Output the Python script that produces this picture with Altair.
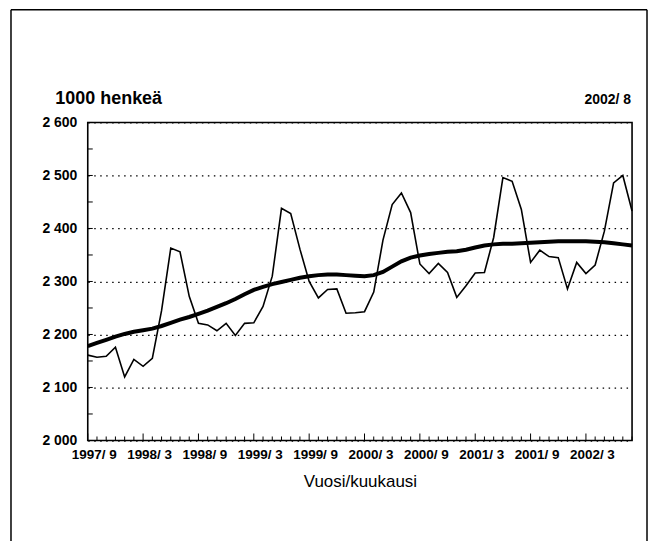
import altair as alt
import pandas as pd

# --- data ---------------------------------------------------------------
month_index = list(range(60))  # 1997/9 ... 2002/8
tick_labels = ["1997/ 9", "1998/ 3", "1998/ 9", "1999/ 3", "1999/ 9",
               "2000/ 3", "2000/ 9", "2001/ 3", "2001/ 9", "2002/ 3"]
tick_positions = [0, 6, 12, 18, 24, 30, 36, 42, 48, 54]

original = [2161, 2157, 2159, 2176, 2120, 2153, 2140, 2155, 2245, 2363,
            2356, 2272, 2221, 2218, 2207, 2221, 2198, 2221, 2222, 2253,
            2310, 2438, 2428, 2361, 2300, 2269, 2285, 2286, 2240, 2241,
            2243, 2280, 2378, 2445, 2467, 2430, 2333, 2315, 2334, 2317,
            2270, 2292, 2316, 2317, 2383, 2496, 2489, 2436, 2336, 2359,
            2347, 2345, 2286, 2336, 2315, 2331, 2395, 2486, 2500, 2433]

trend = [2178, 2184, 2190, 2196, 2201, 2205, 2208, 2211, 2216, 2222,
         2228, 2233, 2239, 2245, 2252, 2259, 2267, 2276, 2284, 2290,
         2295, 2299, 2303, 2307, 2310, 2312, 2313, 2313, 2312, 2311,
         2310, 2312, 2318, 2328, 2338, 2345, 2349, 2352, 2354, 2356,
         2357, 2360, 2364, 2368, 2370, 2371, 2371, 2372, 2373, 2374,
         2375, 2376, 2376, 2376, 2376, 2375, 2374, 2372, 2370, 2368]

y_ticks = [2000, 2100, 2200, 2300, 2400, 2500, 2600]
y_minor = [2050, 2150, 2250, 2350, 2450, 2550]

FONT = "Liberation Sans, Arial, sans-serif"
W, H = 546, 319

df = pd.DataFrame({"i": month_index, "orig": original, "trend": trend})
ticks_df = pd.DataFrame({"i": month_index,
                         "major": [(m % 6 == 0) for m in month_index]})
ymin_df = pd.DataFrame({"v": y_minor + y_ticks})

label_array = "[" + ",".join("'" + t + "'" for t in tick_labels) + "]"

x_scale = alt.Scale(domain=[0, 59], nice=False, zero=False)
y_scale = alt.Scale(domain=[2000, 2600], nice=False, zero=False)

x_axis = alt.Axis(values=tick_positions, labelExpr=label_array + "[round(datum.value/6)]",
                  title="Vuosi/kuukausi", grid=False, ticks=False, domain=False,
                  labelOverlap=False, labelFlush=False, labelBound=False,
                  labelFont=FONT, labelFontSize=13.5, labelFontWeight="bold",
                  labelColor="black", labelPadding=7, labelOffset=6,
                  titleFont=FONT, titleFontSize=17, titleFontWeight="normal",
                  titleColor="black", titlePadding=13)

y_axis = alt.Axis(values=y_ticks,
                  labelExpr="replace(format(datum.value, ','), ',', ' ')",
                  labelOverlap=False, labelFlush=False, labelBound=False,
                  title="1000 henkeä", titleAngle=0, titleAlign="left",
                  titleBaseline="alphabetic", titleX=-33, titleY=-19,
                  titleFont=FONT, titleFontSize=18, titleFontWeight="bold",
                  titleColor="black",
                  grid=True, gridDash=[1.5, 4.5], gridColor="black",
                  gridWidth=1.3, ticks=False, domain=False,
                  labelFont=FONT, labelFontSize=14, labelFontWeight="bold",
                  labelColor="black", labelPadding=11)

base = alt.Chart(df)

thin = base.mark_line(color="black", strokeWidth=1.6).encode(
    x=alt.X("i:Q", scale=x_scale, axis=x_axis),
    y=alt.Y("orig:Q", scale=y_scale, axis=y_axis),
)
thick = base.mark_line(color="black", strokeWidth=4).encode(
    x=alt.X("i:Q", scale=x_scale),
    y=alt.Y("trend:Q", scale=y_scale),
)

xt_minor = alt.Chart(ticks_df).transform_filter("!datum.major").mark_rule(
    color="black", strokeWidth=1).encode(
    x=alt.X("i:Q", scale=x_scale), y=alt.value(H), y2=alt.value(H - 4))
xt_major = alt.Chart(ticks_df).transform_filter("datum.major").mark_rule(
    color="black", strokeWidth=1).encode(
    x=alt.X("i:Q", scale=x_scale), y=alt.value(H), y2=alt.value(H - 7))
yt = alt.Chart(ymin_df).mark_rule(color="black", strokeWidth=1).encode(
    y=alt.Y("v:Q", scale=y_scale), x=alt.value(0), x2=alt.value(5))

corner = alt.Chart(pd.DataFrame({"t": ["2002/ 8"]})).mark_text(
    align="right", baseline="alphabetic", font=FONT, fontSize=14,
    fontWeight="bold", color="black").encode(
    text="t:N", x=alt.value(W - 1), y=alt.value(-19))

frame_l = alt.Chart(pd.DataFrame({"a": [0]})).mark_rule(color="black", strokeWidth=1.5).encode(
    x=alt.value(-77), y=alt.value(-113), y2=alt.value(420))
frame_r = alt.Chart(pd.DataFrame({"a": [0]})).mark_rule(color="black", strokeWidth=1.5).encode(
    x=alt.value(561), y=alt.value(-113), y2=alt.value(420))
frame_t = alt.Chart(pd.DataFrame({"a": [0]})).mark_rule(color="black", strokeWidth=1.5).encode(
    x=alt.value(-77), x2=alt.value(561), y=alt.value(-113))

chart = alt.layer(thin, thick, xt_minor, xt_major, yt, corner,
                  frame_l, frame_r, frame_t).properties(
    width=W, height=H,
    autosize=alt.AutoSizeParams(type="none"),
    padding={"left": 80, "top": 114, "right": 17, "bottom": 100},
    background="white",
).configure_view(stroke="black", strokeWidth=1.6)

chart.save("out.html", embed_options={"renderer": "svg", "actions": False})
